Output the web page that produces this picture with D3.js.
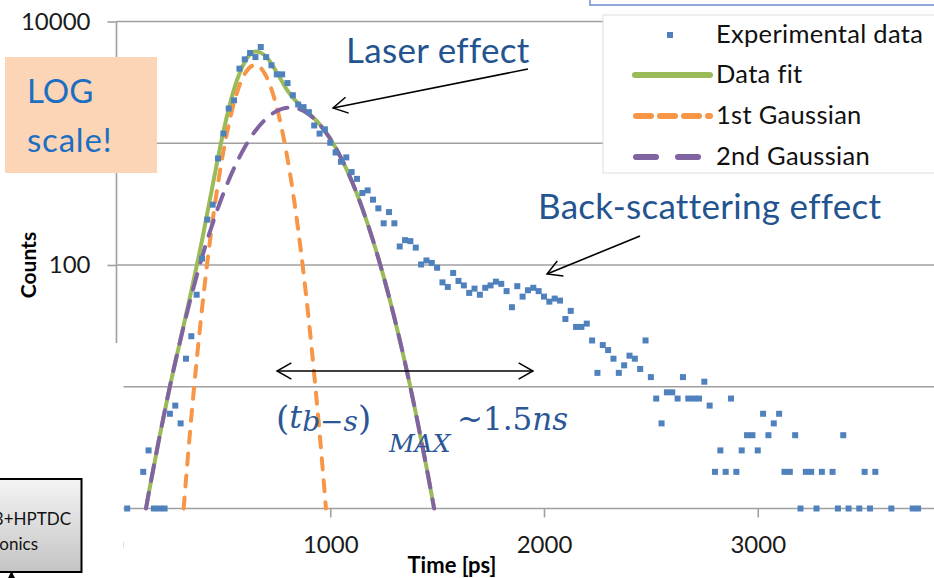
<!DOCTYPE html>
<html>
<head>
<meta charset="utf-8">
<script src="https://cdn.jsdelivr.net/npm/d3@7"></script>
<style>
body { margin: 0; background: #fff; }
svg { display: block; font-family: Lato, "Open Sans", sans-serif; }
</style>
</head>
<body>
<svg id="myGraph" width="934" height="578"></svg>
<script>
var timePs = [
  50,125,150,175,200,225,250,275,300,325,
  350,375,400,425,450,475,500,525,550,575,
  600,625,650,675,700,725,750,775,800,825,
  850,875,900,925,950,975,1000,1025,1050,1075,
  1100,1125,1150,1175,1200,1225,1250,1275,1300,1325,
  1350,1375,1400,1425,1450,1475,1500,1525,1550,1575,
  1600,1625,1650,1675,1700,1725,1750,1775,1800,1825,
  1850,1875,1900,1925,1950,1975,2000,2025,2050,2075,
  2100,2125,2150,2175,2200,2225,2250,2275,2300,2325,
  2350,2375,2400,2425,2450,2475,2500,2525,2550,2575,
  2600,2625,2650,2675,2700,2725,2750,2775,2800,2825,
  2850,2875,2900,2925,2950,2975,3000,3025,3050,3075,
  3100,3125,3150,3175,3200,3225,3250,3275,3300,3350,
  3375,3400,3425,3475,3500,3525,3550,3625,3725,3750];
var counts = [
  1,2,3,1,1,1,6,7,5,17,
  26,57,113,236,313,750,1200,1930,2250,4100,
  4890,5510,5100,6170,5100,4370,3680,3680,3120,2480,
  2080,1980,1800,1400,1200,1300,1010,840,705,765,
  580,510,390,410,344,292,220,272,220,142,
  160,157,139,101,109,104,95,72,66,86,
  74,68,59,64,57,65,68,73,70,61,
  45,67,55,62,65,61,55,50,53,51,
  36,42,31,31,33,24,13,22,20,17,
  13,15,18,17,14,24,12,8,5,9,
  9,8,12,8,8,8,11,7,2,3,
  2,8,2,3,4,4,3,6,4,5,
  6,2,2,4,1,2,2,1,2,2,
  1,4,1,1,2,1,2,1,1,1];

// fit curves
var fitTime = [138,150,200,250,300,350,400,450,500,550,600,650,700,750,800,850,900,950,1000,1050,1100,1150,1200,1250,1300,1350,1400,1450,1486];
var fitCounts = [1,1.31,3.78,10.1,24.7,61.3,159,453,1244,2781,4647,5662,5147,3811,2707,2112,1760,1433,1088,763,492,292,159,79.9,36.9,15.7,6.1,2.2,1];
var gauss1Time = [314,350,400,450,500,550,600,650,700,750,800,850,900,950,980];
var gauss1Counts = [1,5.6,43.5,233,857,2157,3720,4395,3555,1970,748,195,34.7,4.2,1];
var gauss2Time = fitTime;
var gauss2Counts = [1,1.31,3.78,10.1,24.7,55.7,115.6,220,387,624,927,1267,1592,1841,1959,1917,1725,1429,1088,763,492,292,159,79.9,36.9,15.7,6.1,2.2,1];

var yTicks = [1, 10, 100, 1000, 10000];
var yTickLabels = [100, 10000]; // the others sit under the boxes
var xTicks = [0, 1000, 2000, 3000];
var legendNames = ["Experimental data", "Data fit", "1st Gaussian", "2nd Gaussian"];

var colBlue = "#4f81bd", colGreen = "#9bbb59", colOrange = "#f79646", colPurple = "#8064a2";
var gridCol = "#a0a0a0";

var svg = d3.select("#myGraph");

var x = d3.scaleLinear().domain([0, 4000]).range([116.5, 971.5]);
var y = d3.scaleLog().domain([1, 10000]).range([508.5, 21.5]);

// arrow head + gradient
var defs = svg.append("defs");
defs.append("marker")
  .attr("id", "arr").attr("viewBox", "0 0 20 20")
  .attr("refX", 18).attr("refY", 10)
  .attr("markerWidth", 18).attr("markerHeight", 18)
  .attr("markerUnits", "userSpaceOnUse")
  .attr("orient", "auto-start-reverse")
  .append("path").attr("d", "M2,1 L18,10 L2,19")
  .attr("fill", "none").attr("stroke", "#000").attr("stroke-width", 1.6);
defs.append("marker")
  .attr("id", "tri").attr("viewBox", "0 0 10 10")
  .attr("refX", 9).attr("refY", 5)
  .attr("markerWidth", 9).attr("markerHeight", 9)
  .attr("markerUnits", "userSpaceOnUse")
  .attr("orient", "auto")
  .append("path").attr("d", "M0,0 L10,5 L0,10 Z").attr("fill", "#000");
var grad = defs.append("linearGradient").attr("id", "gbox")
  .attr("x1", 0).attr("y1", 0).attr("x2", 0).attr("y2", 1);
grad.append("stop").attr("offset", "0%").attr("stop-color", "#f4f4f4");
grad.append("stop").attr("offset", "100%").attr("stop-color", "#c4c4c4");

// gridlines
svg.append("g").selectAll("line")
  .data(yTicks)
  .enter().append("line")
  .attr("x1", 116.5).attr("x2", 934)
  .attr("y1", function(d){ return y(d); })
  .attr("y2", function(d){ return y(d); })
  .attr("stroke", gridCol).attr("stroke-width", 1.6);

// y axis
var yAxis = d3.axisLeft(y)
  .tickValues(yTicks)
  .tickFormat(function(d){ return yTickLabels.indexOf(d) >= 0 ? d3.format("d")(d) : ""; })
  .tickSize(9)
  .tickPadding(17);
var gy = svg.append("g").attr("transform", "translate(116.5,0)").call(yAxis);
gy.select(".domain").remove();
gy.selectAll("line").attr("stroke", gridCol).attr("stroke-width", 1.6);
gy.selectAll("text").attr("font-size", 24).attr("fill", "#1a1a1a").attr("font-family", "Lato");
svg.append("line")
  .attr("x1", 116.5).attr("x2", 116.5)
  .attr("y1", y(10000)).attr("y2", y(1))
  .attr("stroke", gridCol).attr("stroke-width", 1.6);

// x axis
var xAxis = d3.axisBottom(x)
  .tickValues(xTicks)
  .tickFormat(d3.format("d"))
  .tickSize(9)
  .tickPadding(18);
var gx = svg.append("g").attr("transform", "translate(0," + y(1) + ")").call(xAxis);
gx.select(".domain").remove();
gx.selectAll("line").attr("stroke", gridCol).attr("stroke-width", 1.6);
gx.selectAll("text").attr("font-size", 24).attr("fill", "#1a1a1a").attr("font-family", "Lato");

// curves
function curveLine(ts, vs) {
  return d3.line()
    .x(function(d, i){ return x(ts[i]); })
    .y(function(d){ return y(d); })
    .curve(d3.curveMonotoneX)(vs);
}
svg.append("path").attr("d", curveLine(fitTime, fitCounts))
  .attr("fill", "none").attr("stroke", colGreen).attr("stroke-width", 4);
svg.append("path").attr("d", curveLine(gauss1Time, gauss1Counts))
  .attr("fill", "none").attr("stroke", colOrange).attr("stroke-width", 4)
  .attr("stroke-linecap", "round").attr("stroke-dasharray", "11,11");
svg.append("path").attr("d", curveLine(gauss2Time, gauss2Counts))
  .attr("fill", "none").attr("stroke", colPurple).attr("stroke-width", 4)
  .attr("stroke-linecap", "round").attr("stroke-dasharray", "16,12");

// experimental points
svg.append("g").selectAll("rect")
  .data(counts)
  .enter().append("rect")
  .attr("x", function(d, i){ return x(timePs[i]) - 3; })
  .attr("y", function(d){ return y(d) - 3; })
  .attr("width", 6).attr("height", 6)
  .attr("fill", colBlue);

// white cover at bottom-left of the axes
svg.append("rect").attr("x", 0).attr("y", 343).attr("width", 123.5).attr("height", 235).attr("fill", "#fff");

// axis titles
svg.append("text").attr("transform", "translate(36,265) rotate(-90)")
  .attr("text-anchor", "middle").attr("font-size", 21).attr("font-weight", "bold")
  .text("Counts");
svg.append("text").attr("x", 452).attr("y", 573)
  .attr("text-anchor", "middle").attr("font-size", 22).attr("font-weight", "bold")
  .text("Time [ps]");

// legend
var leg = svg.append("g");
leg.append("rect").attr("x", 603).attr("y", 15).attr("width", 340).attr("height", 158)
  .attr("fill", "#fff").attr("stroke", "#dedede");
var legY = [35, 75, 116, 157];
leg.append("rect").attr("x", 667).attr("y", legY[0] - 3).attr("width", 6).attr("height", 6).attr("fill", colBlue);
leg.append("line").attr("x1", 635).attr("x2", 710).attr("y1", legY[1]).attr("y2", legY[1])
  .attr("stroke", colGreen).attr("stroke-width", 6).attr("stroke-linecap", "round");
leg.append("line").attr("x1", 636).attr("x2", 710).attr("y1", legY[2]).attr("y2", legY[2])
  .attr("stroke", colOrange).attr("stroke-width", 6).attr("stroke-linecap", "round").attr("stroke-dasharray", "15,9");
leg.append("line").attr("x1", 636).attr("x2", 710).attr("y1", legY[3]).attr("y2", legY[3])
  .attr("stroke", colPurple).attr("stroke-width", 6).attr("stroke-linecap", "round").attr("stroke-dasharray", "20,22");
leg.selectAll("text.ln")
  .data(legendNames)
  .enter().append("text")
  .attr("class", "ln")
  .attr("x", 716)
  .attr("y", function(d, i){ return legY[i] + 8; })
  .attr("font-size", 25.5).attr("letter-spacing", 0.3).attr("fill", "#111")
  .text(function(d){ return d; });

// LOG scale box
svg.append("rect").attr("x", 5).attr("y", 57).attr("width", 152).attr("height", 116).attr("fill", "#fbd5b5");
svg.append("text").attr("x", 27).attr("y", 103).attr("font-size", 33).attr("fill", "#1b6ec2").text("LOG");
svg.append("text").attr("x", 27).attr("y", 152).attr("font-size", 33).attr("letter-spacing", 0.8).attr("fill", "#1b6ec2").text("scale!");

// annotations
svg.append("text").attr("x", 346).attr("y", 63).attr("font-size", 35).attr("letter-spacing", 0.3).attr("fill", "#24548f").text("Laser effect");
svg.append("line").attr("x1", 528).attr("y1", 69).attr("x2", 333).attr("y2", 108)
  .attr("stroke", "#000").attr("stroke-width", 1.6).attr("marker-end", "url(#arr)");
svg.append("text").attr("x", 538).attr("y", 219).attr("font-size", 35).attr("letter-spacing", 0.3).attr("fill", "#24548f").text("Back-scattering effect");
svg.append("line").attr("x1", 640).attr("y1", 236).attr("x2", 547).attr("y2", 274)
  .attr("stroke", "#000").attr("stroke-width", 1.6).attr("marker-end", "url(#arr)");
svg.append("line").attr("x1", 277).attr("y1", 371).attr("x2", 533).attr("y2", 371)
  .attr("stroke", "#000").attr("stroke-width", 1.6)
  .attr("marker-start", "url(#arr)").attr("marker-end", "url(#arr)");

// formula (t_b-s)_MAX ~1.5ns, one text with flowing tspans
var fm = svg.append("text")
  .attr("x", 276).attr("y", 430)
  .attr("fill", "#2b5797")
  .attr("font-family", "'DejaVu Serif', 'Liberation Serif', serif");
fm.append("tspan").attr("font-size", 34).text("(");
fm.append("tspan").attr("dy", -2).attr("font-size", 32).attr("font-style", "italic").text("t");
fm.append("tspan").attr("dy", 3).attr("font-size", 28).attr("font-style", "italic").text("b\u2212s");
fm.append("tspan").attr("dy", -1).attr("font-size", 34).text(")");
fm.append("tspan").attr("x", 389).attr("y", 452).attr("font-size", 25).attr("font-style", "italic").text("MAX");
fm.append("tspan").attr("x", 457).attr("y", 430).attr("font-size", 31).text("~1.5");
fm.append("tspan").attr("font-size", 31).attr("font-style", "italic").text("ns");

// grey box bottom-left
svg.append("rect").attr("x", -3).attr("y", 479).attr("width", 84.5).attr("height", 93)
  .attr("fill", "url(#gbox)").attr("stroke", "#000").attr("stroke-width", 2);
svg.append("text").attr("x", 71).attr("y", 525).attr("text-anchor", "end").attr("font-size", 17).attr("fill", "#111").text("3+HPTDC");
svg.append("text").attr("x", 38).attr("y", 550).attr("text-anchor", "end").attr("font-size", 17).attr("fill", "#111").text("onics");
svg.append("line").attr("x1", 11.5).attr("y1", 590).attr("x2", 11.5).attr("y2", 572)
  .attr("stroke", "#000").attr("stroke-width", 1.5).attr("marker-end", "url(#tri)");

// blue frame edge at the top right
svg.append("path").attr("d", "M590,0 L590,5 L934,5")
  .attr("fill", "none").attr("stroke", "#8eaadb").attr("stroke-width", 2);
</script>
</body>
</html>
